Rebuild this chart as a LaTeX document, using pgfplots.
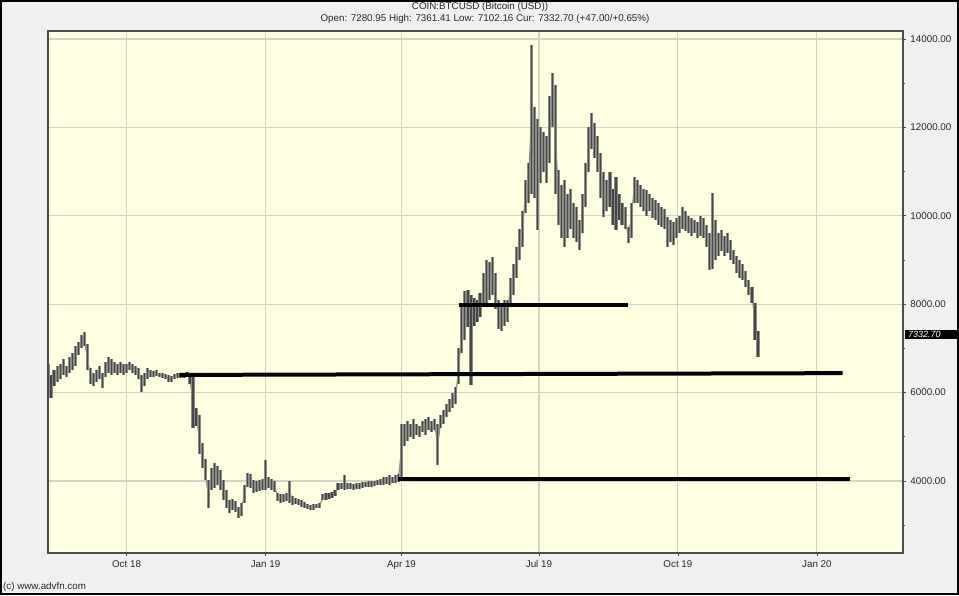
\documentclass[border=0pt]{standalone}
\usepackage{pgfplots}
\pgfplotsset{compat=1.18}
\usepackage{pgfplotstable}
\usepackage{fontspec}
\setmainfont{Liberation Sans}
\definecolor{bgout}{RGB}{240,240,240}
\definecolor{bgin}{RGB}{255,255,225}
\definecolor{gridc}{RGB}{212,212,196}
\definecolor{barc}{RGB}{70,70,70}
\definecolor{barl}{RGB}{140,140,135}
\definecolor{txtc}{RGB}{40,40,40}

\pgfplotstableread{
d lo hi
-52 6050 6650
-50 5880 6400
-48 6150 6500
-46 6250 6600
-44 6300 6650
-42 6400 6750
-40 6350 6600
-38 6450 6800
-36 6500 6900
-34 6600 7050
-32 6850 7150
-30 7000 7300
-28 7050 7370
-26 6500 7100
-24 6200 6550
-22 6150 6450
-20 6250 6500
-18 6300 6600
-16 6100 6450
-14 6350 6700
-12 6450 6800
-10 6400 6750
-8 6450 6700
-6 6400 6650
-4 6450 6700
-2 6400 6650
0 6450 6650
2 6500 6700
4 6450 6650
6 6400 6600
8 6300 6550
10 6010 6400
12 6150 6450
14 6300 6550
16 6350 6500
18 6350 6480
20 6380 6500
22 6350 6450
24 6330 6450
26 6300 6420
28 6250 6400
30 6240 6380
32 6300 6420
34 6320 6440
36 6330 6450
38 6340 6450
40 6350 6470
42 6200 6400
44 5200 6380
46 5250 5650
48 4600 5500
50 4300 4860
52 4020 4500
54 3400 4020
56 3800 4300
58 3850 4400
60 3900 4350
62 3800 4250
64 3570 4020
66 3400 3800
68 3270 3570
70 3350 3600
72 3300 3550
74 3160 3410
76 3200 3500
78 3500 3900
80 3860 4180
82 3850 4150
84 3730 4020
86 3750 4000
88 3780 4020
90 3800 4050
92 3800 4470
94 3850 4090
96 3800 4050
98 3750 4000
100 3550 3730
102 3500 3700
104 3520 3700
106 3550 3720
108 3500 4000
110 3450 3650
112 3480 3620
114 3450 3600
116 3420 3580
118 3400 3520
120 3360 3480
122 3340 3460
124 3350 3470
126 3380 3480
128 3400 3500
130 3570 3700
132 3580 3730
134 3600 3720
136 3620 3740
138 3650 3800
140 3800 3950
142 3820 3950
144 3800 4130
146 3810 3960
148 3820 3950
150 3800 3930
152 3820 3950
154 3830 3960
156 3850 3970
158 3860 3980
160 3870 3990
162 3860 4000
164 3880 4000
166 3900 4020
168 3900 4050
170 3920 4080
172 3930 4100
174 3900 4130
176 3950 4100
178 3960 4130
180 3980 4150
182 4100 5300
184 4800 5300
186 4900 5350
188 5000 5300
190 4950 5400
192 5050 5300
194 5000 5250
196 5100 5350
198 5050 5400
200 5150 5450
202 5100 5350
204 5150 5400
206 4360 5300
208 5200 5500
210 5300 5600
212 5450 5750
214 5550 5850
216 5650 6000
218 5750 6130
220 6200 7000
222 6900 8000
224 7200 8300
226 7480 8320
228 6170 8200
230 7500 8150
232 7600 8100
234 7700 8250
236 7950 8700
238 8000 9000
240 8100 8950
242 8200 9070
244 7900 8700
246 7450 8100
248 7400 7950
250 7500 8100
252 7600 8100
254 8000 8600
256 8200 8900
258 8600 9300
260 9000 9700
262 9300 10100
264 10060 10800
266 10300 11200
268 10500 13860
270 10400 12460
272 9680 12200
274 10740 12000
276 11000 11900
278 10750 11800
280 11200 12700
282 12000 13230
284 10500 12960
286 9800 11030
288 9500 10700
290 9300 10800
292 9500 10500
294 9700 10600
296 9500 10300
298 9400 10200
300 9230 9900
302 9600 10500
304 10200 11200
306 11000 12000
308 11500 12320
310 11300 12100
312 11000 11800
314 10400 11420
316 9970 11000
318 10100 10800
320 10200 11000
322 9800 10600
324 9680 10880
326 9900 10500
328 9800 10300
330 9700 10200
332 9380 9750
334 9500 10300
336 10290 10880
338 10300 10800
340 10200 10700
342 10100 10600
344 10000 10580
346 10100 10500
348 9950 10400
350 9900 10350
352 9800 10300
354 9750 10200
356 9700 10150
358 9300 9970
360 9400 9900
362 9350 9850
364 9500 9950
366 9600 10000
368 9700 10200
370 9650 10100
372 9600 10000
374 9550 9950
376 9600 9900
378 9500 9850
380 9550 10000
382 9500 9950
384 9300 9800
386 8770 9600
388 8800 10510
390 9000 9900
392 9100 9600
394 9200 9680
396 9100 9550
398 9150 9600
400 9000 9450
402 8900 9230
404 8700 9100
406 8600 9000
408 8550 8900
410 8400 8750
412 8200 8550
414 8030 8400
416 7200 8030
418 6800 7400
}\btc

\begin{document}
\fontsize{9.8}{11.5}\selectfont
\begin{tikzpicture}
\useasboundingbox (0,0) rectangle (959pt,595pt);
\fill[bgout] (0,0) rectangle (959pt,595pt);
\begin{axis}[
  at={(48pt,42pt)}, anchor=south west,
  scale only axis, width=855pt, height=522pt,
  xmin=-52, xmax=514, ymin=2371, ymax=14181,
  axis background/.style={fill=bgin},
  axis line style={draw=black!70, line width=1.2pt},
  xtick={0,92,182,273,365,457},
  xticklabels={Oct 18,Jan 19,Apr 19,Jul 19,Oct 19,Jan 20},
  ytick={4000,6000,8000,10000,12000,14000},
  minor ytick={3000,5000,7000,9000,11000,13000},
  scaled y ticks=false,
  xtick pos=bottom, ytick pos=right,
  yticklabel pos=right,
  tick align=outside,
  major tick length=3pt, minor tick length=2pt,
  tick style={black!70, line width=0.8pt},
  grid=major,
  major grid style={draw=gridc, line width=1.1pt},
  ticklabel style={font=\fontsize{9.8}{11.5}\selectfont, text=txtc},
  yticklabel style={anchor=west, xshift=1pt},
  xticklabel style={yshift=-1pt},
  /pgf/number format/.cd, fixed, fixed zerofill, precision=2, 1000 sep={}, assume math mode=true,
]
\addplot[draw=none, mark=none, forget plot,
  error bars/.cd, y dir=plus, y explicit, error mark=none,
  error bar style={draw=barl, line width=3.1pt}]
  table[x=d, y=lo, y error plus expr=\thisrow{hi}-\thisrow{lo}] {\btc};
\addplot[barl, line width=1.2pt, mark=none, forget plot]
  table[x=d, y expr=(\thisrow{lo}+\thisrow{hi})/2] {\btc};
\addplot[draw=none, mark=none, forget plot,
  error bars/.cd, y dir=plus, y explicit, error mark=none,
  error bar style={draw=barc, line width=1.1pt}]
  table[x=d, y=lo, y error plus expr=\thisrow{hi}-\thisrow{lo}] {\btc};
\addplot[black, line width=4pt] coordinates {(35,6400) (474,6440)};
\addplot[black, line width=4pt] coordinates {(180,4045) (479,4045)};
\addplot[black, line width=4pt] coordinates {(220,7980) (332,7980)};
\end{axis}
\fill[black] (905pt,255.5pt) rectangle (959pt,265pt);
\node[anchor=west, inner sep=0pt, text=white, font=\fontsize{9}{10}\selectfont\itshape] at (908pt,260.3pt) {7332.70};
\node[text=txtc, inner sep=0pt] at (480pt,588pt) {COIN:BTCUSD (Bitcoin (USD))};
\node[text=txtc, inner sep=0pt] at (485pt,576pt) {Open: 7280.95 High: 7361.41 Low: 7102.16 Cur: 7332.70 (+47.00/+0.65\%)};
\node[text=txtc, anchor=west, inner sep=0pt] at (3pt,8pt) {(c) www.advfn.com};
\draw[black, line width=2pt] (1pt,1pt) rectangle (958pt,594pt);
\end{tikzpicture}
\end{document}
